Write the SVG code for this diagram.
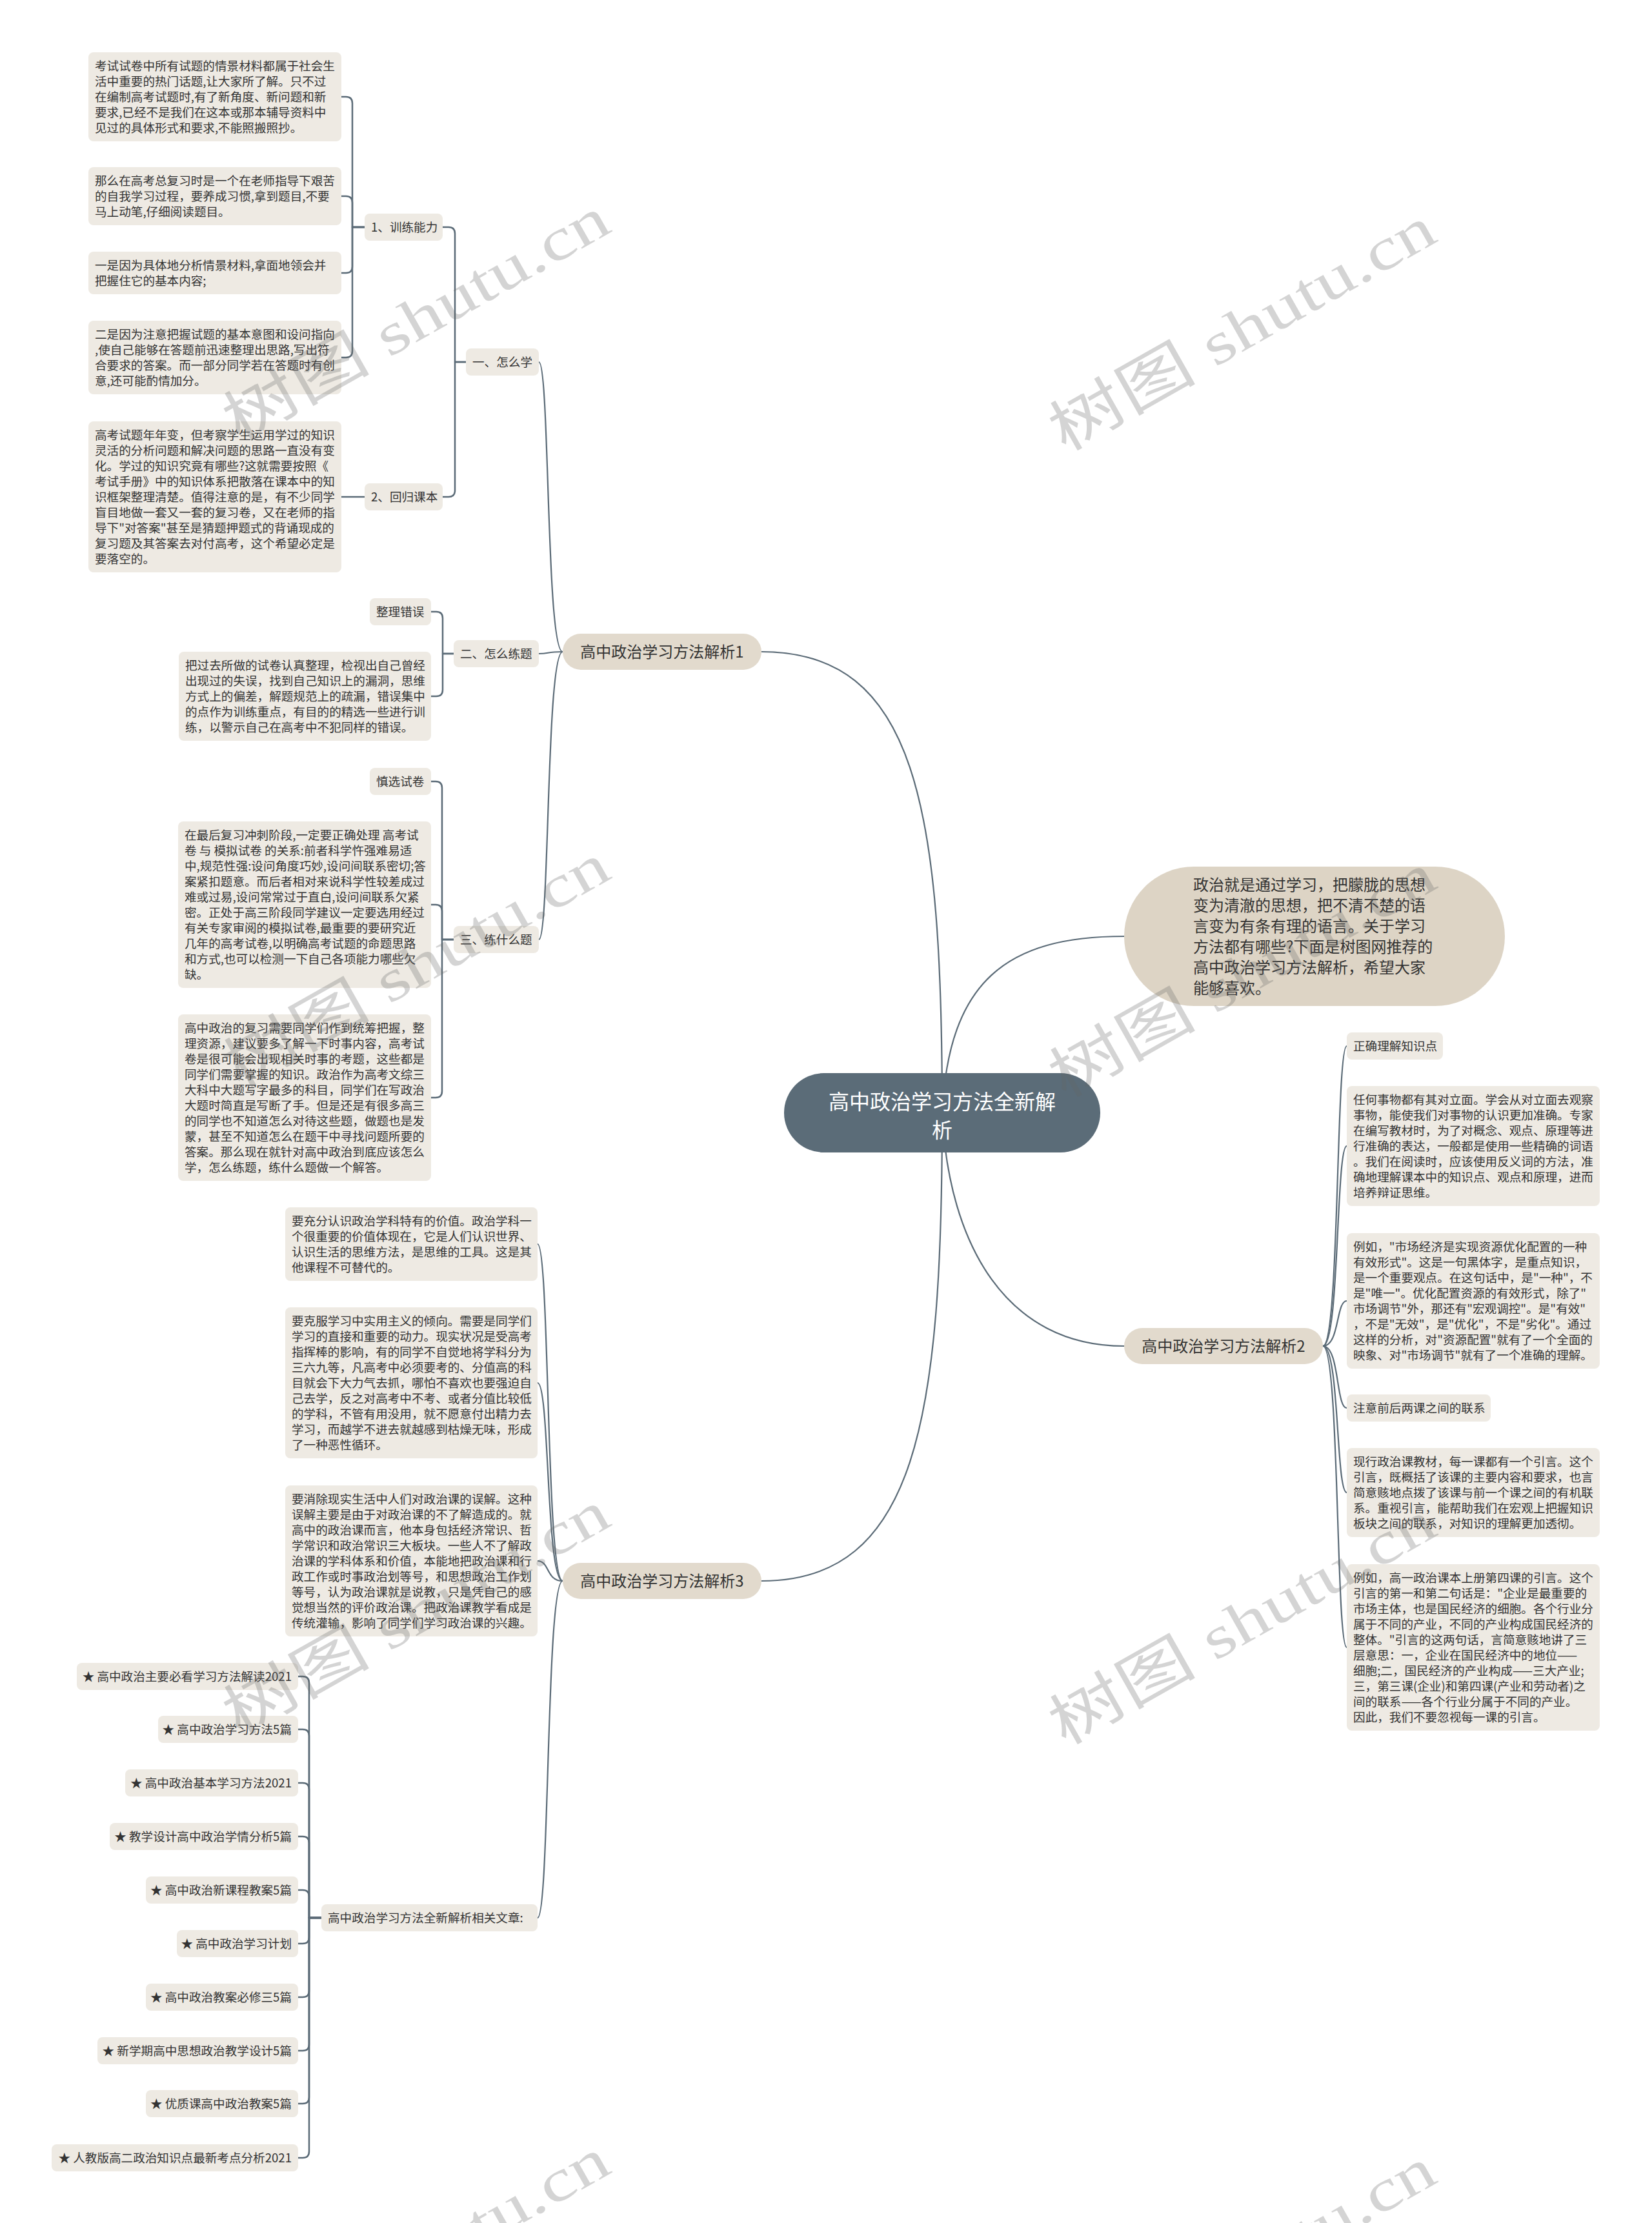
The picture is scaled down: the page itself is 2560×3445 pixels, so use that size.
<svg xmlns="http://www.w3.org/2000/svg" width="2560" height="3445" viewBox="0 0 2560 3445">
<style>
.t{font-family:"Noto Sans CJK SC","Noto Sans",sans-serif;font-size:18.6px;fill:#333}
.t2{font-family:"Noto Sans CJK SC","Noto Sans",sans-serif;font-size:24px;fill:#333}
.root{font-family:"Noto Sans CJK SC","Noto Sans",sans-serif;font-size:32px;fill:#fff}
.box{fill:#eeeae3}
.l1{fill:#e2dacd}
.intro{fill:#ddd4c5}
.c{fill:none;stroke:#5b6b77;stroke-width:2.5;stroke-linejoin:round}
.cv{fill:none;stroke:#5b6b77;stroke-width:2.2}
.wm{font-family:"Liberation Serif","Noto Sans CJK SC",serif;font-size:92px;fill:#666;fill-opacity:0.28}
</style>
<rect width="2560" height="3445" fill="#fff"/>
<g id="connectors">
<path class="cv" d="M1460,1725 C1460,1250 1420,1010 1180,1010"/>
<path class="cv" d="M1460,1725 C1460,2200 1420,2450 1180,2450"/>
<path class="cv" d="M1460,1725 C1470,1520 1560,1451 1742,1451"/>
<path class="cv" d="M1460,1725 C1470,1930 1560,2086 1742,2086"/>
<path class="cv" d="M872,1010 C846,1010 852,561 835,561"/>
<path class="cv" d="M872,1010 C846,1010 852,1013 835,1013"/>
<path class="cv" d="M872,1010 C846,1010 852,1456 835,1456"/>
<path class="cv" d="M872,2450 C846,2450 852,1928 833,1928"/>
<path class="cv" d="M872,2450 C846,2450 852,2143 833,2143"/>
<path class="cv" d="M872,2450 C846,2450 852,2419 833,2419"/>
<path class="cv" d="M872,2450 C846,2450 852,2972 833,2972"/>
<path class="cv" d="M2050,2086 C2076,2086 2070,1621 2087,1621"/>
<path class="cv" d="M2050,2086 C2076,2086 2070,1776 2087,1776"/>
<path class="cv" d="M2050,2086 C2076,2086 2070,2016 2087,2016"/>
<path class="cv" d="M2050,2086 C2076,2086 2070,2182 2087,2182"/>
<path class="cv" d="M2050,2086 C2076,2086 2070,2313 2087,2313"/>
<path class="cv" d="M2050,2086 C2076,2086 2070,2553 2087,2553"/>
<path class="c" d="M722,561 H705 V362 Q705,352 695,352 H686"/>
<path class="c" d="M722,561 H705 V760 Q705,770 695,770 H686"/>
<path class="c" d="M565,352 H546 V160 Q546,150 536,150 H529"/>
<path class="c" d="M565,352 H546 V314 Q546,304 536,304 H529"/>
<path class="c" d="M565,352 H546 V413 Q546,423 536,423 H529"/>
<path class="c" d="M565,352 H546 V544 Q546,554 536,554 H529"/>
<path class="c" d="M565,770 H529"/>
<path class="c" d="M703,1013 H686 V958 Q686,948 676,948 H668"/>
<path class="c" d="M703,1013 H686 V1069 Q686,1079 676,1079 H668"/>
<path class="c" d="M703,1456 H685 V1221 Q685,1211 675,1211 H668"/>
<path class="c" d="M703,1456 H685 V1412 Q685,1402 675,1402 H668"/>
<path class="c" d="M703,1456 H685 V1691 Q685,1701 675,1701 H668"/>
<path class="c" d="M498,2972 H479 V2608 Q479,2598 469,2598 H462"/>
<path class="c" d="M498,2972 H479 V2690 Q479,2680 469,2680 H462"/>
<path class="c" d="M498,2972 H479 V2773 Q479,2763 469,2763 H462"/>
<path class="c" d="M498,2972 H479 V2856 Q479,2846 469,2846 H462"/>
<path class="c" d="M498,2972 H479 V2939 Q479,2929 469,2929 H462"/>
<path class="c" d="M498,2972 H479 V3002 Q479,3012 469,3012 H462"/>
<path class="c" d="M498,2972 H479 V3085 Q479,3095 469,3095 H462"/>
<path class="c" d="M498,2972 H479 V3168 Q479,3178 469,3178 H462"/>
<path class="c" d="M498,2972 H479 V3250 Q479,3260 469,3260 H462"/>
<path class="c" d="M498,2972 H479 V3334 Q479,3344 469,3344 H462"/>
</g>

<g id="root">
<rect x="1215" y="1663" width="490" height="123" rx="61.5" fill="#5b6c78"/>
<text class="root" x="1460" y="1718.5" text-anchor="middle">高中政治学习方法全新解</text>
<text class="root" x="1460" y="1762.5" text-anchor="middle">析</text>
</g>

<g id="intro">
<rect class="intro" x="1742" y="1343" width="590" height="216" rx="108"/>
<text class="t2" x="1849" y="1379.5">政治就是通过学习，把朦胧的思想</text>
<text class="t2" x="1849" y="1411.5">变为清澈的思想，把不清不楚的语</text>
<text class="t2" x="1849" y="1443.5">言变为有条有理的语言。关于学习</text>
<text class="t2" x="1849" y="1475.5">方法都有哪些?下面是树图网推荐的</text>
<text class="t2" x="1849" y="1507.5">高中政治学习方法解析，希望大家</text>
<text class="t2" x="1849" y="1539.5">能够喜欢。</text>
</g>

<g id="branch1">
<rect class="l1" x="872" y="982" width="308" height="56" rx="28"/>
<text class="t2" x="1026" y="1018.5" text-anchor="middle">高中政治学习方法解析1</text>
</g>
<g id="branch2">
<rect class="l1" x="1742" y="2058" width="308" height="56" rx="28"/>
<text class="t2" x="1896" y="2094.5" text-anchor="middle">高中政治学习方法解析2</text>
</g>
<g id="branch3">
<rect class="l1" x="872" y="2422" width="308" height="56" rx="28"/>
<text class="t2" x="1026" y="2458.5" text-anchor="middle">高中政治学习方法解析3</text>
</g>

<g id="n-yi">
<rect class="box" x="722" y="540" width="113" height="42" rx="8"/>
<text class="t" x="732" y="567.5">一、怎么学</text>
</g>
<g id="n-er">
<rect class="box" x="703" y="992" width="132" height="42" rx="8"/>
<text class="t" x="713" y="1019.5">二、怎么练题</text>
</g>
<g id="n-san">
<rect class="box" x="703" y="1435" width="132" height="42" rx="8"/>
<text class="t" x="713" y="1462.5">三、练什么题</text>
</g>

<g id="n-xunlian">
<rect class="box" x="565" y="331" width="121" height="42" rx="8"/>
<text class="t" x="575" y="358.5">1、训练能力</text>
</g>
<g id="n-huigui">
<rect class="box" x="565" y="749" width="121" height="42" rx="8"/>
<text class="t" x="575" y="776.5">2、回归课本</text>
</g>

<g id="b1">
<rect class="box" x="137" y="81" width="392" height="138" rx="8"/>
<text class="t" x="147" y="109">考试试卷中所有试题的情景材料都属于社会生</text>
<text class="t" x="147" y="133">活中重要的热门话题,让大家所了解。只不过</text>
<text class="t" x="147" y="157">在编制高考试题时,有了新角度、新问题和新</text>
<text class="t" x="147" y="181">要求,已经不是我们在这本或那本辅导资料中</text>
<text class="t" x="147" y="205">见过的具体形式和要求,不能照搬照抄。</text>
</g>
<g id="b2">
<rect class="box" x="137" y="259" width="392" height="90" rx="8"/>
<text class="t" x="147" y="287">那么在高考总复习时是一个在老师指导下艰苦</text>
<text class="t" x="147" y="311">的自我学习过程，要养成习惯,拿到题目,不要</text>
<text class="t" x="147" y="335">马上动笔,仔细阅读题目。</text>
</g>
<g id="b3">
<rect class="box" x="137" y="390" width="392" height="66" rx="8"/>
<text class="t" x="147" y="418">一是因为具体地分析情景材料,拿面地领会并</text>
<text class="t" x="147" y="442">把握住它的基本内容;</text>
</g>
<g id="b4">
<rect class="box" x="137" y="497" width="392" height="114" rx="8"/>
<text class="t" x="147" y="525">二是因为注意把握试题的基本意图和设问指向</text>
<text class="t" x="147" y="549">,使自己能够在答题前迅速整理出思路,写出符</text>
<text class="t" x="147" y="573">合要求的答案。而一部分同学若在答题时有创</text>
<text class="t" x="147" y="597">意,还可能酌情加分。</text>
</g>
<g id="b5">
<rect class="box" x="137" y="653" width="392" height="234" rx="8"/>
<text class="t" x="147" y="681">高考试题年年变，但考察学生运用学过的知识</text>
<text class="t" x="147" y="705">灵活的分析问题和解决问题的思路一直没有变</text>
<text class="t" x="147" y="729">化。学过的知识究竟有哪些?这就需要按照《</text>
<text class="t" x="147" y="753">考试手册》中的知识体系把散落在课本中的知</text>
<text class="t" x="147" y="777">识框架整理清楚。值得注意的是，有不少同学</text>
<text class="t" x="147" y="801">盲目地做一套又一套的复习卷，又在老师的指</text>
<text class="t" x="147" y="825">导下"对答案"甚至是猜题押题式的背诵现成的</text>
<text class="t" x="147" y="849">复习题及其答案去对付高考，这个希望必定是</text>
<text class="t" x="147" y="873">要落空的。</text>
</g>

<g id="n-zhengli">
<rect class="box" x="573" y="927" width="95" height="42" rx="8"/>
<text class="t" x="583" y="954.5">整理错误</text>
</g>
<g id="b6">
<rect class="box" x="277" y="1010" width="391" height="138" rx="8"/>
<text class="t" x="287" y="1038">把过去所做的试卷认真整理，检视出自己曾经</text>
<text class="t" x="287" y="1062">出现过的失误，找到自己知识上的漏洞，思维</text>
<text class="t" x="287" y="1086">方式上的偏差，解题规范上的疏漏，错误集中</text>
<text class="t" x="287" y="1110">的点作为训练重点，有目的的精选一些进行训</text>
<text class="t" x="287" y="1134">练，以警示自己在高考中不犯同样的错误。</text>
</g>

<g id="n-shenxuan">
<rect class="box" x="573" y="1190" width="95" height="42" rx="8"/>
<text class="t" x="583" y="1217.5">慎选试卷</text>
</g>
<g id="b7">
<rect class="box" x="276" y="1273" width="392" height="258" rx="8"/>
<text class="t" x="286" y="1301">在最后复习冲刺阶段,一定要正确处理 高考试</text>
<text class="t" x="286" y="1325">卷 与 模拟试卷 的关系:前者科学忤强难易适</text>
<text class="t" x="286" y="1349">中,规范性强:设问角度巧妙,设问间联系密切;答</text>
<text class="t" x="286" y="1373">案紧扣题意。而后者相对来说科学性较差成过</text>
<text class="t" x="286" y="1397">难或过易,设问常常过于直白,设问间联系欠紧</text>
<text class="t" x="286" y="1421">密。正处于高三阶段同学建议一定要选用经过</text>
<text class="t" x="286" y="1445">有关专家审阅的模拟试卷,最重要的要研究近</text>
<text class="t" x="286" y="1469">几年的高考试卷,以明确高考试题的命题思路</text>
<text class="t" x="286" y="1493">和方式,也可以检测一下自己各项能力哪些欠</text>
<text class="t" x="286" y="1517">缺。</text>
</g>
<g id="b8">
<rect class="box" x="276" y="1572" width="392" height="258" rx="8"/>
<text class="t" x="286" y="1600">高中政治的复习需要同学们作到统筹把握，整</text>
<text class="t" x="286" y="1624">理资源，建议要多了解一下时事内容，高考试</text>
<text class="t" x="286" y="1648">卷是很可能会出现相关时事的考题，这些都是</text>
<text class="t" x="286" y="1672">同学们需要掌握的知识。政治作为高考文综三</text>
<text class="t" x="286" y="1696">大科中大题写字最多的科目，同学们在写政治</text>
<text class="t" x="286" y="1720">大题时简直是写断了手。但是还是有很多高三</text>
<text class="t" x="286" y="1744">的同学也不知道怎么对待这些题，做题也是发</text>
<text class="t" x="286" y="1768">蒙，甚至不知道怎么在题干中寻找问题所要的</text>
<text class="t" x="286" y="1792">答案。那么现在就针对高中政治到底应该怎么</text>
<text class="t" x="286" y="1816">学，怎么练题，练什么题做一个解答。</text>
</g>

<g id="c1">
<rect class="box" x="442" y="1871" width="391" height="114" rx="8"/>
<text class="t" x="452" y="1899">要充分认识政治学科特有的价值。政治学科一</text>
<text class="t" x="452" y="1923">个很重要的价值体现在，它是人们认识世界、</text>
<text class="t" x="452" y="1947">认识生活的思维方法，是思维的工具。这是其</text>
<text class="t" x="452" y="1971">他课程不可替代的。</text>
</g>
<g id="c2">
<rect class="box" x="442" y="2026" width="391" height="234" rx="8"/>
<text class="t" x="452" y="2054">要克服学习中实用主义的倾向。需要是同学们</text>
<text class="t" x="452" y="2078">学习的直接和重要的动力。现实状况是受高考</text>
<text class="t" x="452" y="2102">指挥棒的影响，有的同学不自觉地将学科分为</text>
<text class="t" x="452" y="2126">三六九等，凡高考中必须要考的、分值高的科</text>
<text class="t" x="452" y="2150">目就会下大力气去抓，哪怕不喜欢也要强迫自</text>
<text class="t" x="452" y="2174">己去学，反之对高考中不考、或者分值比较低</text>
<text class="t" x="452" y="2198">的学科，不管有用没用，就不愿意付出精力去</text>
<text class="t" x="452" y="2222">学习，而越学不进去就越感到枯燥无味，形成</text>
<text class="t" x="452" y="2246">了一种恶性循环。</text>
</g>
<g id="c3">
<rect class="box" x="442" y="2302" width="391" height="234" rx="8"/>
<text class="t" x="452" y="2330">要消除现实生活中人们对政治课的误解。这种</text>
<text class="t" x="452" y="2354">误解主要是由于对政治课的不了解造成的。就</text>
<text class="t" x="452" y="2378">高中的政治课而言，他本身包括经济常识、哲</text>
<text class="t" x="452" y="2402">学常识和政治常识三大板块。一些人不了解政</text>
<text class="t" x="452" y="2426">治课的学科体系和价值，本能地把政治课和行</text>
<text class="t" x="452" y="2450">政工作或时事政治划等号，和思想政治工作划</text>
<text class="t" x="452" y="2474">等号，认为政治课就是说教，只是凭自己的感</text>
<text class="t" x="452" y="2498">觉想当然的评价政治课。把政治课教学看成是</text>
<text class="t" x="452" y="2522">传统灌输，影响了同学们学习政治课的兴趣。</text>
</g>

<g id="n-related">
<rect class="box" x="498" y="2951" width="335" height="42" rx="8"/>
<text class="t" x="508" y="2978.5">高中政治学习方法全新解析相关文章:</text>
</g>
<g id="i1"><rect class="box" x="119" y="2577" width="343" height="42" rx="8"/><text class="t" x="452" y="2604.5" text-anchor="end">★ 高中政治主要必看学习方法解读2021</text></g>
<g id="i2"><rect class="box" x="245" y="2659" width="217" height="42" rx="8"/><text class="t" x="452" y="2686.5" text-anchor="end">★ 高中政治学习方法5篇</text></g>
<g id="i3"><rect class="box" x="194" y="2742" width="268" height="42" rx="8"/><text class="t" x="452" y="2769.5" text-anchor="end">★ 高中政治基本学习方法2021</text></g>
<g id="i4"><rect class="box" x="170" y="2825" width="292" height="42" rx="8"/><text class="t" x="452" y="2852.5" text-anchor="end">★ 教学设计高中政治学情分析5篇</text></g>
<g id="i5"><rect class="box" x="226" y="2908" width="236" height="42" rx="8"/><text class="t" x="452" y="2935.5" text-anchor="end">★ 高中政治新课程教案5篇</text></g>
<g id="i6"><rect class="box" x="274" y="2991" width="188" height="42" rx="8"/><text class="t" x="452" y="3018.5" text-anchor="end">★ 高中政治学习计划</text></g>
<g id="i7"><rect class="box" x="226" y="3074" width="236" height="42" rx="8"/><text class="t" x="452" y="3101.5" text-anchor="end">★ 高中政治教案必修三5篇</text></g>
<g id="i8"><rect class="box" x="151" y="3157" width="311" height="42" rx="8"/><text class="t" x="452" y="3184.5" text-anchor="end">★ 新学期高中思想政治教学设计5篇</text></g>
<g id="i9"><rect class="box" x="226" y="3239" width="236" height="42" rx="8"/><text class="t" x="452" y="3266.5" text-anchor="end">★ 优质课高中政治教案5篇</text></g>
<g id="i10"><rect class="box" x="80" y="3323" width="382" height="42" rx="8"/><text class="t" x="452" y="3350.5" text-anchor="end">★ 人教版高二政治知识点最新考点分析2021</text></g>

<g id="n-zhengque">
<rect class="box" x="2087" y="1600" width="149" height="42" rx="8"/>
<text class="t" x="2097" y="1627.5">正确理解知识点</text>
</g>
<g id="r1">
<rect class="box" x="2087" y="1683" width="392" height="186" rx="8"/>
<text class="t" x="2097" y="1711">任何事物都有其对立面。学会从对立面去观察</text>
<text class="t" x="2097" y="1735">事物，能使我们对事物的认识更加准确。专家</text>
<text class="t" x="2097" y="1759">在编写教材时，为了对概念、观点、原理等进</text>
<text class="t" x="2097" y="1783">行准确的表达，一般都是使用一些精确的词语</text>
<text class="t" x="2097" y="1807">。我们在阅读时，应该使用反义词的方法，准</text>
<text class="t" x="2097" y="1831">确地理解课本中的知识点、观点和原理，进而</text>
<text class="t" x="2097" y="1855">培养辩证思维。</text>
</g>
<g id="r2">
<rect class="box" x="2087" y="1911" width="392" height="210" rx="8"/>
<text class="t" x="2097" y="1939">例如，"市场经济是实现资源优化配置的一种</text>
<text class="t" x="2097" y="1963">有效形式"。这是一句黑体字，是重点知识，</text>
<text class="t" x="2097" y="1987">是一个重要观点。在这句话中，是"一种"，不</text>
<text class="t" x="2097" y="2011">是"唯一"。优化配置资源的有效形式，除了"</text>
<text class="t" x="2097" y="2035">市场调节"外，那还有"宏观调控"。是"有效"</text>
<text class="t" x="2097" y="2059">，不是"无效"，是"优化"，不是"劣化"。通过</text>
<text class="t" x="2097" y="2083">这样的分析，对"资源配置"就有了一个全面的</text>
<text class="t" x="2097" y="2107">映象、对"市场调节"就有了一个准确的理解。</text>
</g>
<g id="n-zhuyi">
<rect class="box" x="2087" y="2161" width="223" height="42" rx="8"/>
<text class="t" x="2097" y="2188.5">注意前后两课之间的联系</text>
</g>
<g id="r3">
<rect class="box" x="2087" y="2244" width="392" height="138" rx="8"/>
<text class="t" x="2097" y="2272">现行政治课教材，每一课都有一个引言。这个</text>
<text class="t" x="2097" y="2296">引言，既概括了该课的主要内容和要求，也言</text>
<text class="t" x="2097" y="2320">简意赅地点拨了该课与前一个课之间的有机联</text>
<text class="t" x="2097" y="2344">系。重视引言，能帮助我们在宏观上把握知识</text>
<text class="t" x="2097" y="2368">板块之间的联系，对知识的理解更加透彻。</text>
</g>
<g id="r4">
<rect class="box" x="2087" y="2424" width="392" height="258" rx="8"/>
<text class="t" x="2097" y="2452">例如，高一政治课本上册第四课的引言。这个</text>
<text class="t" x="2097" y="2476">引言的第一和第二句话是："企业是最重要的</text>
<text class="t" x="2097" y="2500">市场主体，也是国民经济的细胞。各个行业分</text>
<text class="t" x="2097" y="2524">属于不同的产业，不同的产业构成国民经济的</text>
<text class="t" x="2097" y="2548">整体。"引言的这两句话，言简意赅地讲了三</text>
<text class="t" x="2097" y="2572">层意思：一，企业在国民经济中的地位——</text>
<text class="t" x="2097" y="2596">细胞;二，国民经济的产业构成——三大产业;</text>
<text class="t" x="2097" y="2620">三，第三课(企业)和第四课(产业和劳动者)之</text>
<text class="t" x="2097" y="2644">间的联系——各个行业分属于不同的产业。</text>
<text class="t" x="2097" y="2668">因此，我们不要忽视每一课的引言。</text>
</g>

<g id="watermarks">
<text class="wm" transform="translate(645,495) rotate(-29.5)" text-anchor="middle" dominant-baseline="central" textLength="668" lengthAdjust="spacingAndGlyphs">树图 shutu.cn</text>
<text class="wm" transform="translate(1925,510) rotate(-29.5)" text-anchor="middle" dominant-baseline="central" textLength="668" lengthAdjust="spacingAndGlyphs">树图 shutu.cn</text>
<text class="wm" transform="translate(645,1497) rotate(-29.5)" text-anchor="middle" dominant-baseline="central" textLength="668" lengthAdjust="spacingAndGlyphs">树图 shutu.cn</text>
<text class="wm" transform="translate(1925,1512) rotate(-29.5)" text-anchor="middle" dominant-baseline="central" textLength="668" lengthAdjust="spacingAndGlyphs">树图 shutu.cn</text>
<text class="wm" transform="translate(645,2500) rotate(-29.5)" text-anchor="middle" dominant-baseline="central" textLength="668" lengthAdjust="spacingAndGlyphs">树图 shutu.cn</text>
<text class="wm" transform="translate(1925,2515) rotate(-29.5)" text-anchor="middle" dominant-baseline="central" textLength="668" lengthAdjust="spacingAndGlyphs">树图 shutu.cn</text>
<text class="wm" transform="translate(645,3503) rotate(-29.5)" text-anchor="middle" dominant-baseline="central" textLength="668" lengthAdjust="spacingAndGlyphs">树图 shutu.cn</text>
<text class="wm" transform="translate(1925,3518) rotate(-29.5)" text-anchor="middle" dominant-baseline="central" textLength="668" lengthAdjust="spacingAndGlyphs">树图 shutu.cn</text>
</g>
</svg>
